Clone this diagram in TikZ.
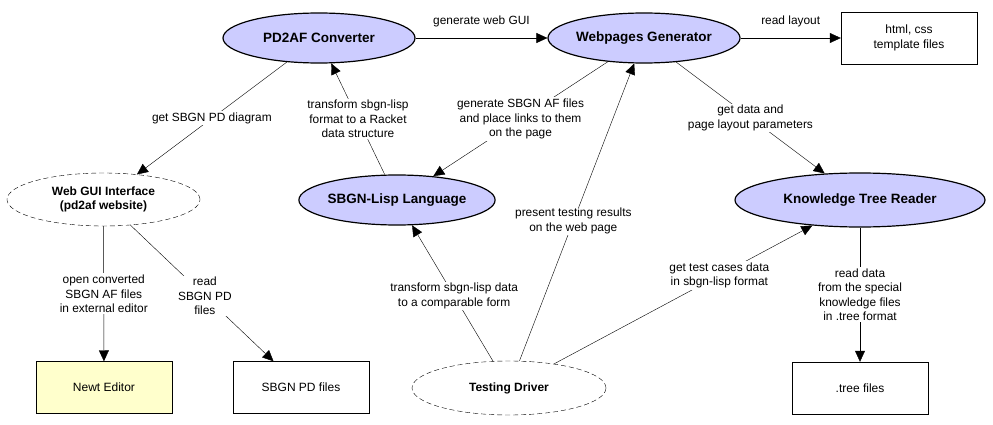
\documentclass[tikz,border=0pt]{standalone}
\usepackage{fontspec}
\setmainfont{Liberation Sans}
\usepackage{tikz}
\usetikzlibrary{arrows.meta}
\usetikzlibrary{shapes.geometric}

\definecolor{lavender}{HTML}{CCCCFF}
\definecolor{paleyellow}{HTML}{FFFFCC}

\begin{document}
\begin{tikzpicture}[x=1pt, y=-1pt, >={Triangle[length=11pt, width=10pt]}, module style/.style={ellipse, draw, line width=1.2pt, fill=lavender, minimum width=192pt, minimum height=50pt, inner sep=0pt, font=\fontsize{13.5}{16}\selectfont\bfseries}, outer style/.style={ellipse, draw, dash pattern=on 5pt off 3pt, fill=white, minimum width=193pt, minimum height=53pt, inner sep=0pt, align=center, font=\fontsize{12}{14.5}\selectfont\bfseries}, file style/.style={draw, rectangle, align=center, minimum width=136pt, minimum height=52pt, font=\fontsize{12}{14.5}\selectfont}, flow/.style={fill=white, align=center, inner sep=1.5pt, font=\fontsize{11.9}{14.5}\selectfont}]
	\useasboundingbox (0,0) rectangle (993,425);
	\node[module style] (pd2af) at (319,38) {PD2AF Converter};
	\node[module style] (webgen) at (644,38) {Webpages Generator};
	\node[file style] (templates) at (909,38) {html, css\\template files};
	\node[outer style] (webgui) at (103.5,199.5) {Web GUI Interface\\(pd2af website)};
	\node[module style, minimum width=195pt] (lisp) at (397,200) {SBGN-Lisp Language};
	\node[module style, minimum width=250pt, minimum height=54pt] (tree) at (860,200) {Knowledge Tree Reader};
	\node[file style, fill=paleyellow] (newt) at (104,387.5) {Newt Editor};
	\node[file style] (pdfiles) at (301,387.5) {SBGN PD files};
	\node[outer style, minimum width=194pt, minimum height=54pt] (driver) at (509,388) {Testing Driver};
	\node[file style] (treefiles) at (860,388) {.tree files};
	\draw[->] (pd2af) -- node[flow, fill=none, above=9pt] {generate web GUI} (webgen);
	\draw[->] (webgen) -- node[flow, fill=none, above=9pt] {read layout} (templates);
	\draw[->] (pd2af) -- node[flow] {get SBGN PD diagram} (webgui);
	\draw[->] (lisp) -- node[flow] {transform sbgn-lisp\\format to a Racket\\data structure} (pd2af);
	\draw[->] (webgen) -- node[flow] {generate SBGN AF files\\and place links to them\\on the page} (lisp);
	\draw[->] (webgen) -- node[flow] {get data and\\page layout parameters} (tree);
	\draw[->] (webgui) -- node[flow] {open converted\\SBGN AF files\\in external editor} (newt);
	\draw[->] (webgui) -- node[flow, pos=0.52] {read\\SBGN PD\\files} (pdfiles);
	\draw[->] (driver) -- node[flow, pos=0.48] {transform sbgn-lisp data\\to a comparable form} (lisp);
	\draw[->] (driver) -- node[flow, pos=0.47] {present testing results\\on the web page} (webgen);
	\draw[->] (driver) -- node[flow, pos=0.64] {get test cases data\\in sbgn-lisp format} (tree);
	\draw[->] (tree) -- node[flow] {read data\\from the special\\knowledge files\\in .tree format} (treefiles);
\end{tikzpicture}
\end{document}
